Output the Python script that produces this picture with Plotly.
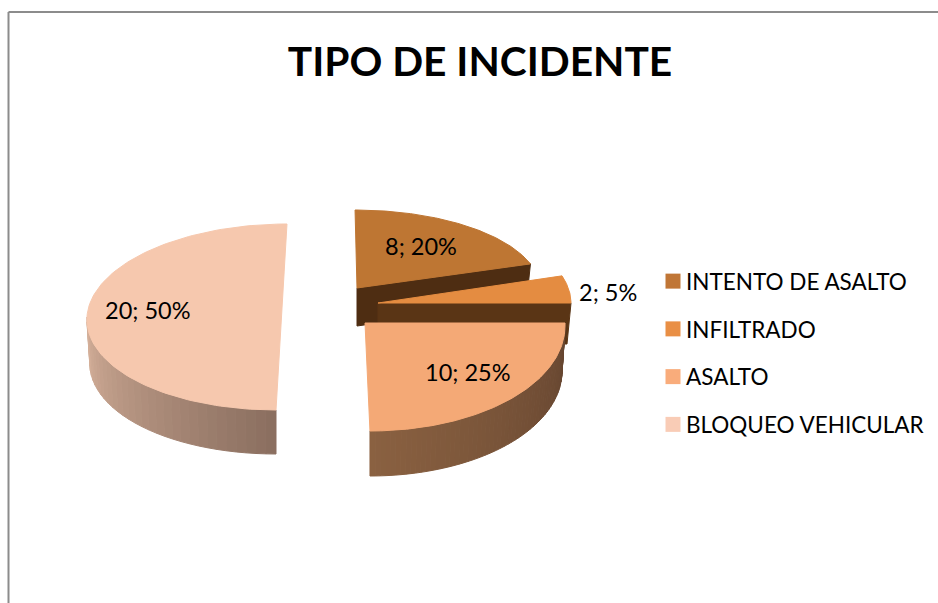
import numpy as np
import plotly.graph_objects as go

title_text = "TIPO DE INCIDENTE"
categories = ["INTENTO DE ASALTO", "INFILTRADO", "ASALTO", "BLOQUEO VEHICULAR"]
values = [8, 2, 10, 20]

# Drawing style and projection (view of the exploded 3D pie), separate from the data
top_colors = ["#BE7633", "#E48C41", "#F4A976", "#F6C8AE"]
legend_colors = ["#C07636", "#E98F45", "#F9AC7B", "#F9CCB6"]
projection = [
    dict(cx=357, cy=288, rx=183, ry=78, shear=0.025, depth=38, wall="edge"),
    dict(cx=378, cy=303, rx=193, ry=90, shear=0.0, depth=41, wall="edge"),
    dict(cx=365, cy=323, rx=200, ry=108, shear=0.046, depth=45, wall="rim"),
    dict(cx=281.5, cy=317, rx=194.5, ry=93, shear=-0.059, depth=44, wall="rim"),
]
wall_ramps = [
    ("#4E2D12", "#4E2D12"),
    ("#5A3515", "#5A3515"),
    ("#64442F", "#8A6141"),
    ("#8A6E5F", "#D6B19B"),
]
label_positions = [(421, 246), (608, 292), (468, 372), (148, 310)]
draw_order = [3, 0, 1, 2]
FONT = "Lato"


def hex_rgb(h):
    return np.array([int(h[i:i + 2], 16) for i in (1, 3, 5)], float)


def mix(a, b, t):
    c = hex_rgb(a) * (1 - t) + hex_rgb(b) * t
    return f"rgb({c[0]:.0f},{c[1]:.0f},{c[2]:.0f})"


def project(p, deg, r=1.0, drop=0.0, shrink=1.0):
    th = np.radians(deg)
    y = p["cy"] - r * p["ry"] * np.cos(th)
    x = p["cx"] + r * shrink * p["rx"] * np.sin(th) + p["shear"] * (y - p["cy"])
    return x, y + drop


def poly(xs, ys, color, name=None):
    return go.Scatter(x=list(xs), y=list(ys), mode="lines", fill="toself", fillcolor=color,
                      line=dict(color=color, width=1), showlegend=False,
                      hoverinfo="text" if name else "skip", text=name)


total = sum(values)
edges = np.cumsum([0] + values) / total * 360
fig = go.Figure()

for i in draw_order:
    p, a0, a1 = projection[i], edges[i], edges[i + 1]
    low, high = wall_ramps[i]
    if p["wall"] == "edge":
        x0, y0 = project(p, a1, 0)
        x1, y1 = project(p, a1)
        fig.add_trace(poly([x0, x1, x1 - 4, x0, x0], [y0, y1, y1 + p["depth"], y0 + p["depth"], y0], low))
    else:
        steps = np.linspace(a0, a1, 61)
        visible = [a for a in steps if a <= 270 or a0 < 180]
        last = len(visible) - 1
        for k in range(last):
            s, e = visible[k], visible[k + 1]
            xa, ya = project(p, s)
            xb, yb = project(p, e)
            xc, yc = project(p, e, drop=p["depth"], shrink=0.985)
            xd, yd = project(p, s, drop=p["depth"], shrink=0.985)
            color = mix(low, high, (k + 0.5) / last)
            fig.add_trace(poly([xa, xb, xc, xd, xa], [ya, yb, yc, yd, ya], color))
    arc = np.linspace(a0, a1, 120)
    px, py = project(p, arc)
    if a1 - a0 < 180:
        cx, cy = project(p, a0, 0)
        px, py = np.r_[cx, px, cx], np.r_[cy, py, cy]
    else:
        px, py = np.r_[px, px[0]], np.r_[py, py[0]]
    fig.add_trace(poly(px, py, top_colors[i], f"{categories[i]}: {values[i]}"))

for name, color in zip(categories, legend_colors):
    fig.add_trace(go.Scatter(x=[None], y=[None], mode="markers", name=name, legendgroup=name,
                             marker=dict(symbol="square", size=15, color=color)))

for v, (lx, ly) in zip(values, label_positions):
    fig.add_annotation(x=lx, y=ly, xref="x", yref="y", text=f"{v}; {round(v / total * 100)}%",
                       showarrow=False, font=dict(family=FONT, size=23.5, color="#000000"))

frame = "#8C8C8C"
fig.add_shape(type="line", xref="paper", yref="paper", x0=8.5 / 938, x1=1, y0=1 - 12 / 603, y1=1 - 12 / 603,
              line=dict(color=frame, width=2))
fig.add_shape(type="line", xref="paper", yref="paper", x0=8.5 / 938, x1=8.5 / 938, y0=0, y1=1 - 12 / 603,
              line=dict(color=frame, width=2))

fig.update_layout(
    width=938, height=603, autosize=False,
    margin=dict(l=0, r=0, t=0, b=0),
    paper_bgcolor="white", plot_bgcolor="white",
    xaxis=dict(range=[0, 938], visible=False, fixedrange=True),
    yaxis=dict(range=[603, 0], visible=False, fixedrange=True),
    title=dict(text=f"<b>{title_text}</b>", x=480 / 938, xanchor="center", y=1 - 62 / 603, yanchor="middle",
               font=dict(family=FONT, size=40.7, color="#000000")),
    legend=dict(x=652 / 938, y=1 - 260 / 603, xanchor="left", yanchor="top", tracegroupgap=15.5,
                indentation=-6, font=dict(family=FONT, size=22.5, color="#000000"),
                bgcolor="rgba(0,0,0,0)", traceorder="grouped"),
)
fig.write_html(
    "out.html",
    config={"displayModeBar": False},
    post_script=(
        "document.body.style.margin='0';document.body.style.overflow='hidden';"
        "document.querySelectorAll('.legendsymbols').forEach(function(e){e.setAttribute('transform','translate(7,0)');});"
    ),
)
